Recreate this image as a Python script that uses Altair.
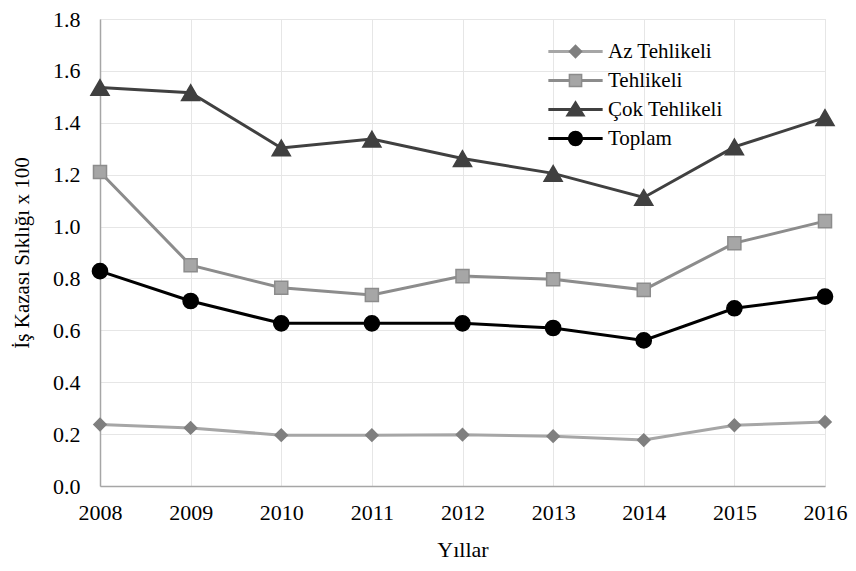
import altair as alt
import pandas as pd

years = [2008, 2009, 2010, 2011, 2012, 2013, 2014, 2015, 2016]
az_tehlikeli = [0.237, 0.224, 0.196, 0.196, 0.198, 0.192, 0.177, 0.234, 0.247]
tehlikeli = [1.210, 0.851, 0.764, 0.736, 0.809, 0.797, 0.756, 0.936, 1.021]
cok_tehlikeli = [1.536, 1.516, 1.303, 1.337, 1.262, 1.205, 1.112, 1.307, 1.420]
toplam = [0.828, 0.713, 0.627, 0.627, 0.627, 0.609, 0.561, 0.685, 0.730]

series_names = ["Az Tehlikeli", "Tehlikeli", "Çok Tehlikeli", "Toplam"]
series_values = [az_tehlikeli, tehlikeli, cok_tehlikeli, toplam]
y_ticks = [0.0, 0.2, 0.4, 0.6, 0.8, 1.0, 1.2, 1.4, 1.6, 1.8]

line_colors = ["#a6a6a6", "#8c8c8c", "#404040", "#000000"]
marker_fill = ["#7f7f7f", "#a6a6a6", "#404040", "#000000"]
marker_stroke = ["#7f7f7f", "#8c8c8c", "#404040", "#000000"]
marker_shape = ["diamond", "square", "triangle-up", "circle"]
marker_size = [150, 170, 330, 230]

# legend symbol paths (unit = sqrt(symbolSize)/2 pixels)
legend_line_path = "M-1.6,-0.045L1.6,-0.045L1.6,0.045L-1.6,0.045Z"
legend_marker_paths = [
    "M-0.37,0L0,-0.37L0.37,0L0,0.37Z",
    "M-0.37,-0.37L0.37,-0.37L0.37,0.37L-0.37,0.37Z",
    "M0,-0.47L0.53,0.38L-0.53,0.38Z",
    "M0.42,0A0.42,0.42,0,1,1,-0.42,0A0.42,0.42,0,1,1,0.42,0Z",
]

rows = []
for name, vals in zip(series_names, series_values):
    for yr, v in zip(years, vals):
        rows.append({"Yıl": yr, "Seri": name, "Değer": v})
df = pd.DataFrame(rows)

FONT = "Liberation Serif"

x_enc = alt.X(
    "Yıl:Q",
    scale=alt.Scale(domain=[2008, 2016], nice=False, zero=False),
    axis=alt.Axis(
        values=years, format="d", title="Yıllar", labelFontSize=22,
        titleFontSize=22, labelPadding=16, titlePadding=16, labelFlush=False,
        ticks=False, grid=True, gridColor="#e6e6e6", domainColor="#a6a6a6",
        domainWidth=1.5, labelColor="#000000", titleColor="#000000",
        titleFontWeight="normal", labelFont=FONT, titleFont=FONT,
    ),
)
y_enc = alt.Y(
    "Değer:Q",
    scale=alt.Scale(domain=[0, 1.8], nice=False),
    axis=alt.Axis(
        values=y_ticks, format=".1f", title="İş Kazası Sıklığı x 100",
        labelFontSize=22, titleFontSize=21, labelPadding=20, titlePadding=20,
        labelFlush=False,
        ticks=False, grid=True, gridColor="#e6e6e6", domainColor="#a6a6a6",
        domainWidth=1.5, labelColor="#000000", titleColor="#000000",
        titleFontWeight="normal", labelFont=FONT, titleFont=FONT,
    ),
)

layers = []
for i, name in enumerate(series_names):
    base = alt.Chart(df).transform_filter(alt.datum["Seri"] == name)
    layers.append(
        base.mark_line(strokeWidth=3, color=line_colors[i]).encode(x=x_enc, y=y_enc)
    )
for i, name in enumerate(series_names):
    base = alt.Chart(df).transform_filter(alt.datum["Seri"] == name)
    layers.append(
        base.mark_point(
            shape=marker_shape[i], size=marker_size[i], filled=True,
            fill=marker_fill[i], stroke=marker_stroke[i], strokeWidth=1.5,
            opacity=1,
        ).encode(x=x_enc, y=y_enc)
    )

LEG_SIZE = 1089
LEG_X = 458
LEG_Y = 15

def make_legend(label_color):
    return alt.Legend(
        title=None, orient="none", legendX=LEG_X, legendY=LEG_Y,
        symbolSize=LEG_SIZE, symbolStrokeWidth=1.5, labelFontSize=21,
        labelFont=FONT, labelColor=label_color, labelOffset=15, rowPadding=1,
        padding=0, symbolOpacity=1,
    )

leg_a = make_legend("#000000")
legend_lines = alt.Chart(df).transform_filter("false").mark_point(
    filled=True, strokeWidth=1.5
).encode(
    x=x_enc, y=y_enc,
    shape=alt.Shape("Seri:N", scale=alt.Scale(domain=series_names,
                    range=[legend_line_path] * 4), legend=leg_a),
    fill=alt.Fill("Seri:N", scale=alt.Scale(domain=series_names,
                  range=line_colors), legend=leg_a),
    stroke=alt.Stroke("Seri:N", scale=alt.Scale(domain=series_names,
                      range=line_colors), legend=leg_a),
)

leg_b = make_legend("transparent")
legend_markers = alt.Chart(df).transform_filter("false").mark_point(
    filled=True, strokeWidth=1.5
).encode(
    x=x_enc, y=y_enc,
    shape=alt.Shape("Seri:N", scale=alt.Scale(domain=series_names,
                    range=legend_marker_paths), legend=leg_b),
    fill=alt.Fill("Seri:N", scale=alt.Scale(domain=series_names,
                  range=marker_fill), legend=leg_b),
    stroke=alt.Stroke("Seri:N", scale=alt.Scale(domain=series_names,
                      range=marker_stroke), legend=leg_b),
)

chart = alt.layer(*layers, legend_lines, legend_markers).resolve_scale(
    shape="independent", fill="independent", stroke="independent"
).resolve_legend(
    shape="independent", fill="independent", stroke="independent"
).properties(
    width=725, height=467,
    autosize=alt.AutoSizeParams(type="none"),
    padding={"left": 92, "top": 11, "right": 23, "bottom": 76},
).configure_view(stroke=None).configure(font=FONT)

chart.save("out.html", embed_options={"renderer": "svg", "actions": False})
